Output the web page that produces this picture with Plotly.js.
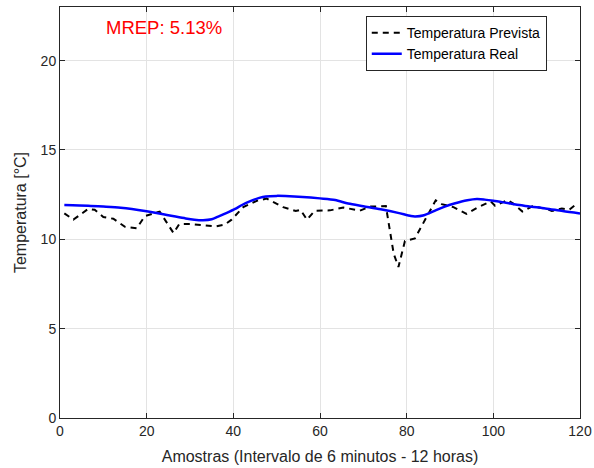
<!DOCTYPE html>
<html>
<head>
<meta charset="utf-8">
<script src="https://cdn.plot.ly/plotly-3.0.1.min.js"></script>
<style>html,body{margin:0;padding:0;background:#fff;}#chart{width:594px;height:468px;}</style>
</head>
<body>
<div id="chart"></div>
<script>
// Temperatura Prevista (dashed black) - read vertices
const prevX = [1, 2.3, 3.1, 6.5, 8, 10, 12.3, 15, 17.7, 19.6, 23, 26.2, 27.5, 30, 33, 36, 38, 39.6, 42.3, 45.4, 47.7, 51.5, 54.4, 55.5, 57, 58.8, 62.3, 65.4, 69.2, 71.5, 75.2, 77, 78.1, 79.6, 81.9, 84, 86.7, 88.1, 90.8, 93.8, 96.5, 99.4, 100.4, 103.3, 104.6, 106.7, 109, 112.3, 113.5, 115.8, 117.5, 118.8];
const prevY = [11.45, 11.2, 11.1, 11.7, 11.65, 11.25, 11.15, 10.7, 10.62, 11.3, 11.55, 10.35, 10.85, 10.86, 10.8, 10.72, 10.82, 11.1, 11.8, 12.15, 12.28, 11.8, 11.58, 11.65, 11.1, 11.6, 11.62, 11.78, 11.6, 11.83, 11.86, 9.2, 8.45, 9.9, 10.05, 11.0, 12.18, 11.97, 11.8, 11.42, 11.8, 12.12, 11.88, 12.2, 12.0, 11.56, 11.85, 11.7, 11.58, 11.72, 11.65, 11.9];

// Temperatura Real (solid blue)
const realX = [1, 6.5, 10, 14, 19.6, 25, 29, 31, 33, 35, 36.5, 38.5, 40.4, 42, 44.2, 46, 47.5, 50, 52, 56, 60, 63.5, 66.5, 70, 74, 78, 81, 82, 84, 86, 88.8, 91, 94, 96.2, 98, 100, 104, 108, 112, 116, 120];
const realY = [11.92, 11.88, 11.83, 11.76, 11.58, 11.35, 11.17, 11.1, 11.07, 11.12, 11.27, 11.48, 11.7, 11.92, 12.16, 12.32, 12.4, 12.43, 12.42, 12.37, 12.29, 12.2, 12.0, 11.85, 11.68, 11.48, 11.3, 11.28, 11.35, 11.55, 11.83, 12.0, 12.18, 12.25, 12.22, 12.16, 12.0, 11.85, 11.73, 11.58, 11.45];

const xTicks = [0, 20, 40, 60, 80, 100, 120];
const yTicks = [0, 5, 10, 15, 20];
const seriesNames = ['Temperatura Prevista', 'Temperatura Real'];
const mrepText = 'MREP: 5.13%';

const FONT = 'Liberation Sans, Arial, Helvetica, sans-serif';
const AX = '#262626';

const traces = [
  {x: prevX, y: prevY, name: seriesNames[0], type: 'scatter', mode: 'lines',
   line: {color: '#000000', width: 2, dash: '6px,5px'}},
  {x: realX, y: realY, name: seriesNames[1], type: 'scatter', mode: 'lines',
   line: {color: '#0000ff', width: 2.5, shape: 'spline', smoothing: 0.8}}
];

const axisCommon = {
  showline: true, linecolor: AX, linewidth: 1, mirror: 'ticks',
  ticks: 'inside', ticklen: 5, tickcolor: AX, tickwidth: 1,
  showgrid: true, gridcolor: '#e3e3e3', gridwidth: 1, zeroline: false,
  tickfont: {family: FONT, size: 14, color: AX}
};

const layout = {
  width: 594, height: 468,
  margin: {l: 60, r: 14, t: 7, b: 50},
  paper_bgcolor: '#ffffff', plot_bgcolor: '#ffffff',
  font: {family: FONT, color: AX},
  showlegend: true,
  legend: {x: 0.588, y: 0.978, xanchor: 'left', yanchor: 'top',
    bgcolor: '#ffffff', bordercolor: AX, borderwidth: 1,
    font: {family: FONT, size: 14, color: '#000000'}, tracegroupgap: 0},
  xaxis: Object.assign({}, axisCommon, {range: [0, 120], tickvals: xTicks,
    title: {text: 'Amostras (Intervalo de 6 minutos - 12 horas)', font: {family: FONT, size: 16, color: AX}, standoff: 13}}),
  yaxis: Object.assign({}, axisCommon, {range: [0, 23], tickvals: yTicks,
    title: {text: 'Temperatura [°C]', font: {family: FONT, size: 16, color: AX}, standoff: 10}}),
  annotations: [{x: 23.9, y: 21.88, xref: 'x', yref: 'y', text: mrepText, showarrow: false,
    font: {family: FONT, size: 18.5, color: '#ff0000'}}]
};

Plotly.newPlot('chart', traces, layout, {staticPlot: true, displayModeBar: false});
</script>
</body>
</html>
